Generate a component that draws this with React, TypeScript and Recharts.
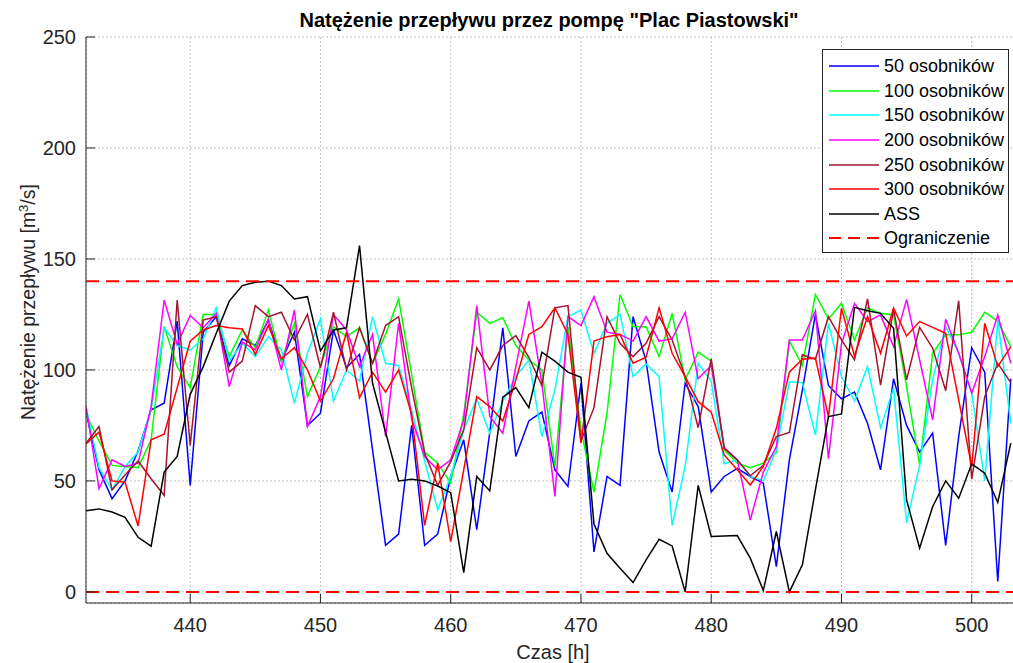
import React from "react";
import { LineChart, Line, XAxis, YAxis, CartesianGrid, ReferenceLine } from "recharts";

// hours 432..503, one sample per hour
const hours = Array.from({ length: 72 }, (_, i) => 432 + i);

const s50 = [
  81, 55, 42, 50, 63.5, 82, 85, 122, 48, 117, 124, 102, 114, 111, 122.5, 104, 117, 75, 80.5, 118,
  101, 107, 64, 21, 26, 75, 21, 26, 52, 68.5, 28, 72, 119, 61, 77, 81, 55, 47.5, 94, 18,
  52, 48, 124, 104, 63, 45, 94, 83.5, 45, 52, 55.7, 52, 49, 11.4, 59.5, 91, 125, 93, 87, 90,
  76, 55, 96, 75, 63, 71.6, 21, 70, 110, 99, 4.7, 96,
];
const s100 = [
  80, 68, 57, 56.5, 56, 68.5, 119.5, 101.5, 92, 125, 125, 106, 118, 110, 127, 104, 121, 88, 101.5, 119.5,
  115, 119, 103, 116, 132, 98, 63, 58, 49, 80, 126, 121, 123.5, 111, 104.5, 100, 56.5, 119.5, 73, 45,
  80.5, 134, 119.5, 119.5, 106, 125.5, 95.5, 108, 104, 64, 58, 56, 58, 62.8, 113, 102, 134, 123, 130, 113.5,
  128, 125.5, 124.8, 92.5, 57, 107.5, 115.8, 115.8, 117, 126, 122, 110.5,
];
const s150 = [
  83.5, 56, 46, 56.5, 63, 82, 119, 111, 109, 114, 128, 104, 112, 106, 115, 109, 85, 107.5, 123, 86,
  100, 95, 124, 103, 102, 82, 59, 37, 52, 73, 87, 71.5, 86, 97, 104.5, 70, 91, 124, 127, 107.5,
  121, 125, 97, 102.7, 97, 30, 56.5, 103, 95, 57.7, 59.5, 52, 50, 64, 94.7, 94.3, 70.7, 121, 97, 86,
  101.5, 74, 91.7, 31.2, 57, 95.5, 119.5, 107.5, 89.5, 50, 122.5, 76,
];
const s200 = [
  83.5, 46.5, 59.5, 56.5, 58, 83.5, 131.5, 111.5, 124.5, 119, 125.5, 92.5, 112.5, 109, 123, 100, 127, 74.5, 88, 125,
  118, 101.5, 116, 70, 121, 78, 61, 55, 59.5, 77.5, 129, 79, 71.5, 101.5, 131, 94, 43, 124, 120, 133,
  117, 116, 113, 124, 113, 114, 126, 96, 102, 65, 59.5, 32.4, 54, 65.5, 113.5, 113.5, 126.7, 60, 111.7, 130,
  121.8, 124.8, 110.5, 131.8, 104.5, 77.5, 122.8, 107.5, 89.5, 106, 124.8, 103,
];
const s250 = [
  67, 74.5, 46, 52.7, 59, 51, 43.4, 131.5, 66, 122.5, 124, 99, 104, 129, 124, 126, 113.5, 125, 101, 126,
  100, 119, 103, 120, 124, 92, 62.5, 48, 58.7, 73, 110, 100, 111, 115.5, 105.7, 93, 128, 129, 68, 83,
  124, 112, 106, 112, 124, 113.5, 97, 74, 105, 64.7, 59.5, 52.3, 57, 70, 71.8, 106.8, 104.8, 124, 113.5, 104.5,
  132, 93.2, 127.3, 95.5, 119.2, 109.8, 90.7, 131.2, 50.8, 88, 103, 94.3,
];
const s300 = [
  66.7, 72, 50, 49.4, 29.7, 68.5, 71, 92, 113, 118, 120, 119, 118.5, 107, 120, 105, 110, 100, 86, 96,
  117, 87.5, 99, 90, 100, 80, 30, 58, 22.7, 55, 88, 83.5, 77, 95.5, 116, 119.5, 128, 116, 67, 113,
  115, 116, 103, 105.7, 128, 107.5, 97, 85.7, 81, 61.7, 55, 48.2, 56.5, 73.7, 99, 104.8, 105.3, 79, 127.8, 106.3,
  124, 107.5, 127.8, 115.3, 121.8, 119.2, 116.5, 86.5, 56.5, 121, 101.5, 110.5,
];
const ass = [
  36.6, 37.4, 36, 33.6, 24.6, 20.6, 54, 61, 89, 101.5, 116.5, 131, 138, 139.5, 140, 138, 132, 133, 108.6, 118,
  119, 156, 94, 72, 50, 50.7, 50, 47.7, 44.7, 8.7, 52, 45.5, 87.7, 92, 83, 108, 104, 99, 96.7, 30.6,
  17.4, 10.7, 4.2, 14.4, 23.7, 20.7, 0, 48, 25, 25.2, 25.4, 15.2, 0.6, 27.2, 0, 12.2, 46, 79, 80.2, 128.2,
  126.7, 125.5, 118.8, 41.4, 19.7, 38.4, 50, 42.2, 57.7, 53.5, 40.3, 67,
];

const limits = [140, 0];
const xTicks = [440, 450, 460, 470, 480, 490, 500];
const yTicks = [0, 50, 100, 150, 200, 250];

const series = [
  { key: "s50", name: "50 osobników", color: "#0000ff", values: s50 },
  { key: "s100", name: "100 osobników", color: "#00ff00", values: s100 },
  { key: "s150", name: "150 osobników", color: "#00ffff", values: s150 },
  { key: "s200", name: "200 osobników", color: "#ff00ff", values: s200 },
  { key: "s250", name: "250 osobników", color: "#a2142f", values: s250 },
  { key: "s300", name: "300 osobników", color: "#ff0000", values: s300 },
  { key: "ass", name: "ASS", color: "#000000", values: ass },
];

const data = hours.map((h, i) => {
  const row: Record<string, number> = { h };
  series.forEach((s) => {
    row[s.key] = s.values[i];
  });
  return row;
});

const FONT = '"Liberation Sans", Arial, Helvetica, sans-serif';
const TXT = "#262626";
const tickStyle = { fontSize: 20, fill: TXT, fontFamily: FONT };

const LegendBox = () => (
  <div
    style={{
      position: "absolute",
      left: 822,
      top: 49,
      width: 187,
      height: 204,
      border: "1px solid #262626",
      background: "#fff",
      boxSizing: "border-box",
      paddingTop: 4,
      fontSize: 18,
      color: "#000",
    }}
  >
    {[...series.map((s) => ({ name: s.name, color: s.color, dash: undefined as string | undefined })),
      { name: "Ograniczenie", color: "#ff0000", dash: "12 7" }].map((item) => (
      <div key={item.name} style={{ height: 24.6, display: "flex", alignItems: "center" }}>
        <svg width={50} height={6} style={{ marginLeft: 6, marginRight: 5 }}>
          <line x1={0} y1={3} x2={50} y2={3} stroke={item.color} strokeWidth={item.dash ? 2 : 1.5} strokeDasharray={item.dash} />
        </svg>
        <span style={{ lineHeight: "18px" }}>{item.name}</span>
      </div>
    ))}
  </div>
);

export default function App() {
  return (
    <div
      style={{
        position: "absolute",
        left: 0,
        top: 0,
        width: 1013,
        height: 663,
        overflow: "hidden",
        background: "#fff",
        fontFamily: FONT,
      }}
    >
      <LineChart width={1016} height={663} data={data} margin={{ top: 37, right: 0, bottom: 0, left: 0 }}>
        <CartesianGrid stroke="#c0c0c0" strokeDasharray="2 2" />
        <XAxis
          dataKey="h"
          type="number"
          domain={[432, 503.4]}
          ticks={xTicks}
          allowDataOverflow
          height={60}
          tickSize={-9}
          tickMargin={24}
          tick={tickStyle}
          stroke={TXT}
        />
        <XAxis
          xAxisId="top"
          orientation="top"
          type="number"
          domain={[432, 503.4]}
          ticks={xTicks}
          allowDataOverflow
          height={0}
          tickSize={-9}
          tick={false}
          stroke={TXT}
        />
        <YAxis
          type="number"
          domain={[-5, 250]}
          ticks={yTicks}
          width={86}
          tickSize={-9}
          tickMargin={19}
          tick={tickStyle}
          stroke={TXT}
        />
        {series.map((s) => (
          <Line
            key={s.key}
            dataKey={s.key}
            name={s.name}
            stroke={s.color}
            strokeWidth={1.5}
            dot={false}
            type="linear"
            isAnimationActive={false}
          />
        ))}
        {limits.map((v) => (
          <ReferenceLine key={v} y={v} stroke="#ff0000" strokeWidth={2} strokeDasharray="13 7" />
        ))}
      </LineChart>
      <div
        style={{
          position: "absolute",
          left: 249,
          width: 600,
          top: 9.8,
          textAlign: "center",
          fontWeight: "bold",
          fontSize: 20,
          lineHeight: "20px",
          color: "#000",
        }}
      >
        Natężenie przepływu przez pompę "Plac Piastowski"
      </div>
      <div
        style={{
          position: "absolute",
          left: 453,
          width: 200,
          top: 642,
          textAlign: "center",
          fontSize: 20,
          lineHeight: "20px",
          color: TXT,
        }}
      >
        Czas [h]
      </div>
      <div
        style={{
          position: "absolute",
          left: 28 - 200,
          top: 302 - 10,
          width: 400,
          height: 20,
          textAlign: "center",
          fontSize: 19.5,
          lineHeight: "20px",
          color: TXT,
          transform: "rotate(-90deg)",
          transformOrigin: "50% 50%",
          whiteSpace: "nowrap",
        }}
      >
        Natężenie przepływu [m<sup style={{ fontSize: 13, lineHeight: 0 }}>3</sup>/s]
      </div>
      <LegendBox />
    </div>
  );
}
